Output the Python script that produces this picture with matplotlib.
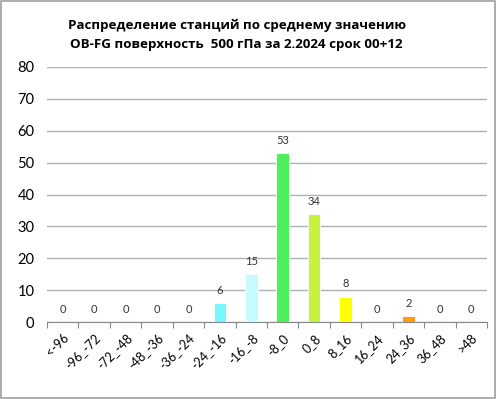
import matplotlib
matplotlib.use("Agg")
import matplotlib.pyplot as plt
from matplotlib.patches import Rectangle

categories = ["<-96", "-96_-72", "-72_-48", "-48_-36", "-36_-24", "-24_-16", "-16_-8",
              "-8_0", "0_8", "8_16", "16_24", "24_36", "36_48", ">48"]
counts = [0, 0, 0, 0, 0, 6, 15, 53, 34, 8, 0, 2, 0, 0]
bar_colors = ["#77F7FB"] * 6 + ["#C8FBFB", "#4EF05A", "#C6F23C", "#FFFF00", "#FFFF00", "#FF9A10", "#FF9A10", "#FF9A10"]

plt.rcParams["font.family"] = ["Lato", "DejaVu Sans"]

fig = plt.figure(figsize=(4.96, 3.99), dpi=100)
ax = fig.add_axes([47 / 496, 1 - 322 / 399, 440 / 496, 255 / 399])

x = range(len(categories))
ax.bar(x, counts, width=0.4, color=bar_colors, edgecolor="white", linewidth=0.6, zorder=3)
for i, v in enumerate(counts):
    ax.text(i, v + 2.2, str(v), ha="center", va="bottom", fontsize=8, color="#333333")

ax.set_xlim(-0.5, len(categories) - 0.5)
ax.set_ylim(0, 80)
ax.set_yticks(range(0, 81, 10))
ax.tick_params(axis="y", length=0, labelsize=10.5, pad=9)
ax.set_xticks([i - 0.5 for i in range(len(categories) + 1)], minor=False)
ax.set_xticklabels([])
ax.tick_params(axis="x", length=4, color="#888888", direction="out")
ax.set_xticks(list(x), minor=True)
ax.set_xticklabels(categories, minor=True, rotation=45, ha="right", rotation_mode="anchor", fontsize=9)
ax.tick_params(axis="x", which="minor", length=0, pad=7)
ax.yaxis.grid(True, color="#B0B0B0", linewidth=1)
for s in ["top", "right", "left"]:
    ax.spines[s].set_visible(False)
ax.spines["bottom"].set_color("#888888")

fig.text(0.477, 0.912, "Распределение станций по среднему значению\nOB-FG поверхность  500 гПа за 2.2024 срок 00+12",
         ha="center", va="center", fontsize=9.6, fontweight="bold", linespacing=1.6,
         family=["Open Sans", "DejaVu Sans"])

fig.patches.append(Rectangle((0.002, 0.003), 0.995, 0.994, transform=fig.transFigure,
                             fill=False, edgecolor="#A0A0A0", linewidth=1.2))

fig.savefig("out.png", dpi=100)
